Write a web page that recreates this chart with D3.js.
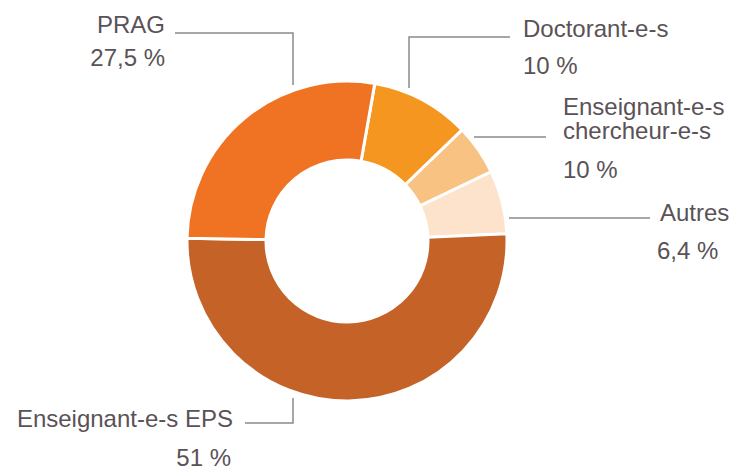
<!DOCTYPE html>
<html>
<head>
<meta charset="utf-8">
<script src="https://cdn.jsdelivr.net/npm/d3@7"></script>
<style>
  html, body { margin: 0; padding: 0; background: #ffffff; }
  svg text { font-family: "Liberation Sans", Arial, sans-serif; font-size: 24px; fill: #5a5257; }
</style>
</head>
<body>
<svg id="chart" width="734" height="466"></svg>
<script>
// ---- data (drawing order, clockwise from just right of 12 o'clock) ----
const categories = ["Doctorant-e-s", "Enseignant-e-s chercheur-e-s", "Autres", "Enseignant-e-s EPS", "PRAG"];
const values = [10, 5.1, 6.4, 51, 27.5];
const valueLabels = ["10 %", "10 %", "6,4 %", "51 %", "27,5 %"];
const colors = ["#f4961f", "#f8c283", "#fde3cb", "#c46227", "#f07324"];

const svg = d3.select("#chart");
const cx = 347, cy = 241, rOuter = 160, rInner = 81;

const pie = d3.pie().sort(null).value(d => d).startAngle(10 * Math.PI / 180).endAngle(370 * Math.PI / 180);
const arc = d3.arc().innerRadius(rInner).outerRadius(rOuter);

const g = svg.append("g").attr("transform", `translate(${cx},${cy})`);
g.selectAll("path")
  .data(pie(values))
  .join("path")
  .attr("d", arc)
  .attr("fill", (d, i) => colors[i])
  .attr("stroke", "#ffffff")
  .attr("stroke-width", 3)
  .attr("stroke-linejoin", "miter");

// ---- labels & leader lines (layout) ----
const labelLayout = [
  { // Doctorant-e-s
    line: [[409, 88], [409, 37], [510, 37]],
    lines: [{ t: categories[0], x: 523, y: 37, a: "start" }, { t: valueLabels[0], x: 523, y: 74, a: "start" }]
  },
  { // EC
    line: [[474, 137], [546, 137]],
    lines: [{ t: "Enseignant-e-s", x: 563, y: 115, a: "start" }, { t: "chercheur-e-s", x: 563, y: 139, a: "start" }, { t: valueLabels[1], x: 563, y: 178, a: "start" }]
  },
  { // Autres
    line: [[509, 218], [650, 218]],
    lines: [{ t: categories[2], x: 660, y: 221, a: "start" }, { t: valueLabels[2], x: 657, y: 259, a: "start" }]
  },
  { // EPS
    line: [[293, 398], [293, 423], [245, 423]],
    lines: [{ t: categories[3], x: 233, y: 427, a: "end" }, { t: valueLabels[3], x: 231, y: 466, a: "end" }]
  },
  { // PRAG
    line: [[293, 85], [293, 33], [175, 33]],
    lines: [{ t: categories[4], x: 165, y: 33, a: "end" }, { t: valueLabels[4], x: 165, y: 66, a: "end" }]
  }
];

const lineGen = d3.line();
labelLayout.forEach(l => {
  svg.append("path")
    .attr("d", lineGen(l.line))
    .attr("fill", "none")
    .attr("stroke", "#8a8a8e")
    .attr("stroke-width", 1.5);
  l.lines.forEach(t => {
    svg.append("text")
      .attr("x", t.x).attr("y", t.y)
      .attr("text-anchor", t.a)
      .text(t.t);
  });
});
</script>
</body>
</html>
